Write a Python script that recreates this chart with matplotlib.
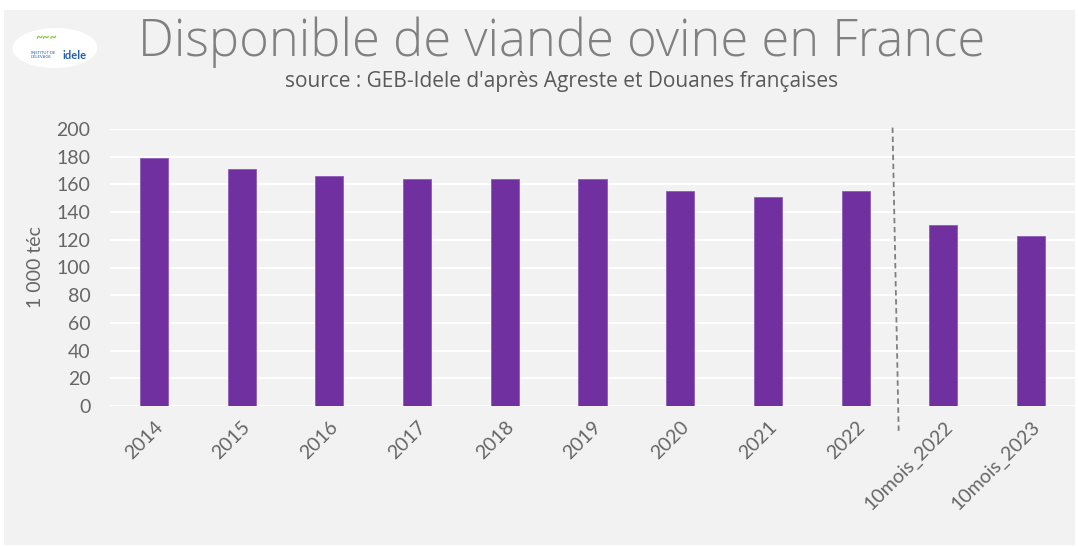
import matplotlib
matplotlib.use("Agg")
import matplotlib.pyplot as plt
from matplotlib.patches import Rectangle, Ellipse
from matplotlib.lines import Line2D

categories = ["2014", "2015", "2016", "2017", "2018", "2019", "2020", "2021", "2022",
              "10mois_2022", "10mois_2023"]
values = [179, 171, 166, 164, 164, 164, 155, 151, 155, 131, 123]
yticks = [0, 20, 40, 60, 80, 100, 120, 140, 160, 180, 200]

plt.rcParams['font.family'] = ['Lato', 'DejaVu Sans']

W, H = 1078, 547
fig = plt.figure(figsize=(W / 100, H / 100), dpi=100, facecolor="white")

# grey panel
fig.patches.append(Rectangle((4 / W, 2 / H), 1071 / W, 535 / H, transform=fig.transFigure,
                             facecolor="#f2f2f2", edgecolor="none", zorder=-5))

ax = fig.add_axes([110 / W, (H - 406) / H, 965 / W, 277 / H])
ax.set_zorder(2)
ax.set_facecolor("#f2f2f2")
x = list(range(len(categories)))
ax.bar(x, values, width=0.32, color="#7030a0", edgecolor="#8e5cb8", linewidth=0.6, zorder=3)
ax.set_xlim(-0.5, len(categories) - 0.5)
ax.set_ylim(0, 200)
ax.set_yticks(yticks)
ax.set_yticklabels([str(v) for v in yticks], fontsize=14, color="#666666")
ax.set_xticks(x)
ax.set_xticklabels(categories, rotation=45, ha="right", rotation_mode="anchor",
                   fontsize=14, color="#666666")
ax.tick_params(axis="y", length=0, pad=14)
ax.tick_params(axis="x", length=0, pad=9)
ax.grid(axis="y", color="white", linewidth=1.5, zorder=1)
ax.set_axisbelow(True)
for s in ax.spines.values():
    s.set_visible(False)
ax.set_ylabel("1 000 téc", fontsize=14, color="#666666", labelpad=9)

# dashed separator
ax.add_line(Line2D([8.42, 8.49], [201, -18], color="#7f7f7f", linewidth=1.3,
                   linestyle=(0, (3, 2)), clip_on=False, zorder=4))

# titles
fig.text(562 / W, 1 - 42 / H, "Disponible de viande ovine en France", ha="center", va="center",
         fontsize=36.5, color="#808080", fontweight="light", family=["Open Sans", "DejaVu Sans"])
fig.text(562 / W, 1 - 82 / H, "source : GEB-Idele d'après Agreste et Douanes françaises",
         ha="center", va="center", fontsize=15, color="#595959", family=["Open Sans", "DejaVu Sans"])

# logo
fig.patches.append(Ellipse((55 / W, 1 - 48 / H), 85 / W, 40 / H, angle=8,
                           transform=fig.transFigure, facecolor="white", edgecolor="none", zorder=1))
fig.text(35 / W, 1 - 37 / H, "~~~", fontsize=9, color="#8dc63f", ha="left", va="center",
         fontweight="bold")
fig.text(62 / W, 1 - 55 / H, "idele", fontsize=8, color="#1f5fad", ha="left", va="center",
         fontweight="bold")
fig.text(31 / W, 1 - 55 / H, "INSTITUT DE\nL'ÉLEVAGE", fontsize=3, color="#1f5fad",
         ha="left", va="center", linespacing=1.0)

fig.savefig("out.png", dpi=100, facecolor="white")
